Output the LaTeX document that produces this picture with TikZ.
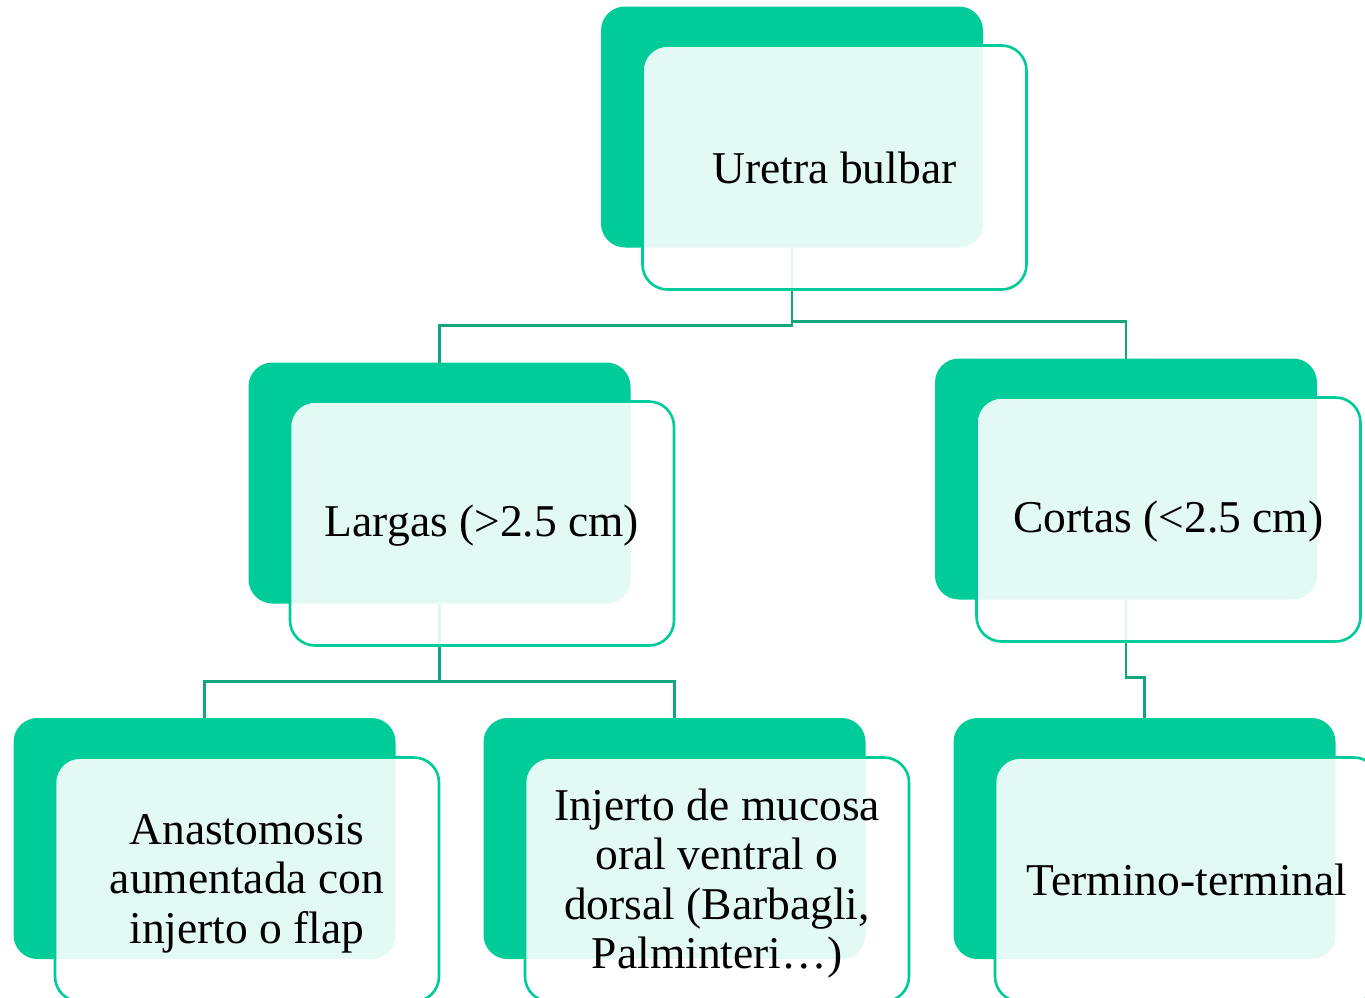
\documentclass[tikz,border=0pt]{standalone}
\usepackage{fontspec}
\setmainfont{Liberation Serif}
\definecolor{smgreen}{RGB}{0,204,153}
\definecolor{smline}{RGB}{18,166,124}
\tikzset{
  backbox/.style={rectangle, rounded corners=24pt, fill=smgreen, draw=none,
    minimum width=382pt, minimum height=241pt, inner sep=0pt, outer sep=0pt},
  frontbox/.style={rectangle, rounded corners=25pt, fill=white, fill opacity=0.89,
    text opacity=1, draw=smgreen, line width=2.6pt, minimum width=384pt,
    minimum height=244pt, inner sep=0pt, outer sep=0pt, align=center,
    font=\fontsize{45.5}{49.5}\selectfont},
  boxtext/.style={align=center, inner sep=0pt, font=\fontsize{45.5}{49.5}\selectfont},
  conn/.style={draw=smline, line width=2.8pt}
}
\begin{document}
\begin{tikzpicture}[x=1pt,y=-1pt]
\useasboundingbox (0,0) rectangle (1365,997);
\clip (0,0) rectangle (1365,997);
% back boxes
\node[backbox] (ubB) at (792,127) {};
\node[backbox] (lgB) at (439.5,483) {};
\node[backbox] (coB) at (1126,479) {};
\node[backbox] (anB) at (204.5,838.5) {};
\node[backbox] (inB) at (674.5,838.5) {};
\node[backbox] (ttB) at (1144.5,838.5) {};
% connectors
\draw[conn] (ubB.south) -- ++(0,78) -| (lgB.north);
\draw[conn] (ubB.south) -- ++(0,74) -| (coB.north);
\draw[conn] (lgB.south) -- ++(0,78) -| (anB.north);
\draw[conn] (lgB.south) -- ++(0,78) -| (inB.north);
\draw[conn] (coB.south) -- ++(0,78) -| (ttB.north);
% front boxes
\node[frontbox] (ubF) at (834.5,167.5) {Uretra bulbar};
\node[frontbox] (lgF) at (482,523.5) {};
\node[boxtext] (lgT) at ([yshift=-2.5pt]lgF.center) {Largas (>2.5 cm)};
\node[frontbox] (coF) at (1168.5,519.5) {};
\node[boxtext] (coT) at ([yshift=-2.5pt]coF.center) {Cortas (<2.5 cm)};
\node[frontbox] (anF) at (247,879.5) {};
\node[boxtext] (anT) at ([yshift=-4pt]anF.center) {Anastomosis\\aumentada con\\injerto o flap};
\node[frontbox] (inF) at (717,879.5) {};
\node[boxtext] (inT) at ([yshift=-4pt]inF.center) {Injerto de mucosa\\oral ventral o\\dorsal (Barbagli,\\Palminteri…)};
\node[frontbox] (ttF) at (1187,879.5) {Termino-terminal};
\end{tikzpicture}
\end{document}
